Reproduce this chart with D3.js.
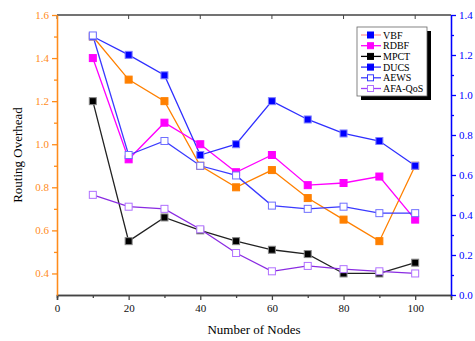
<!DOCTYPE html>
<html>
<head>
<meta charset="utf-8">
<script src="https://cdn.jsdelivr.net/npm/d3@7"></script>
<style>
  body { margin: 0; background: #fff; }
  svg text { font-family: "Liberation Serif", "DejaVu Serif", serif; }
</style>
</head>
<body>
<svg id="chart" width="475" height="341"></svg>
<script>
const nodes = [10, 20, 30, 40, 50, 60, 70, 80, 90, 100];
const vbf    = [1.50, 1.30, 1.20, 0.90, 0.80, 0.88, 0.75, 0.65, 0.55, 0.90];
const rdbf   = [1.40, 0.93, 1.10, 1.00, 0.87, 0.95, 0.81, 0.82, 0.85, 0.65];
const mpct   = [1.20, 0.55, 0.66, 0.60, 0.55, 0.51, 0.49, 0.40, 0.40, 0.45];
const ducs   = [1.50, 1.415, 1.32, 0.95, 1.00, 1.20, 1.115, 1.05, 1.015, 0.90];
const aews   = [1.505, 0.95, 1.015, 0.90, 0.855, 0.715, 0.70, 0.71, 0.68, 0.68];
const afaQos = [0.765, 0.71, 0.70, 0.605, 0.495, 0.41, 0.435, 0.42, 0.41, 0.40];
const leftTicks = [0.4, 0.6, 0.8, 1.0, 1.2, 1.4, 1.6];
const rightTicks = [0.0, 0.2, 0.4, 0.6, 0.8, 1.0, 1.2, 1.4];
const xTicks = [0, 20, 40, 60, 80, 100];

const series = [
  { name: 'VBF', values: vbf, line: '#ff8000', fill: '#ff8000', stroke: '#ff8000', legLine: '#ff9999', legFill: '#0000ff', legStroke: '#0000ff' },
  { name: 'RDBF', values: rdbf, line: '#ff00ff', fill: '#ff00ff', stroke: '#ff00ff', legLine: '#ff00ff', legFill: '#ff00ff', legStroke: '#ff00ff' },
  { name: 'MPCT', values: mpct, line: '#222222', fill: '#000000', stroke: '#888888', legLine: '#000000', legFill: '#000000', legStroke: '#000000' },
  { name: 'DUCS', values: ducs, line: '#2f2fff', fill: '#0000ff', stroke: '#8080ff', legLine: '#2f2fff', legFill: '#0000ff', legStroke: '#0000ff' },
  { name: 'AEWS', values: aews, line: '#3a3aff', fill: '#ffffff', stroke: '#6f6fff', legLine: '#3a3aff', legFill: '#ffffff', legStroke: '#3a3aff' },
  { name: 'AFA-QoS', values: afaQos, line: '#8a2be2', fill: '#ffffff', stroke: '#b070ff', legLine: '#a040ff', legFill: '#ffffff', legStroke: '#b070ff' }
];

const margin = { top: 15, right: 24, bottom: 46, left: 57 };
const width = 475 - margin.left - margin.right;
const height = 341 - margin.top - margin.bottom;

const svg = d3.select('#chart');
const g = svg.append('g').attr('transform', `translate(${margin.left},${margin.top})`);

const x = d3.scaleLinear().domain([0, 110]).range([0, width]);
const y = d3.scaleLinear().domain([0.3, 1.6]).range([height, 0]);
const y2 = d3.scaleLinear().domain([0, 1.4]).range([height, 0]);

// frame top
g.append('line').attr('x1', 0).attr('x2', width).attr('y1', 0).attr('y2', 0)
  .attr('stroke', '#444').attr('stroke-width', 1.5);
g.selectAll('.ttick').data(xTicks).enter().append('line')
  .attr('x1', d => x(d)).attr('x2', d => x(d)).attr('y1', 0).attr('y2', 4)
  .attr('stroke', '#444');

// bottom axis
const xAxis = g.append('g').attr('transform', `translate(0,${height})`);
xAxis.call(d3.axisBottom(x).tickValues(xTicks).tickSize(5).tickPadding(4).tickFormat(d3.format('d')));
xAxis.append('g').call(d3.axisBottom(x).tickValues(d3.range(10, 110, 20)).tickSize(3).tickFormat(''));
xAxis.selectAll('path, line').attr('stroke', '#444').attr('stroke-width', 1.3);
xAxis.selectAll('path.domain').attr('stroke-width', 1.5);
xAxis.selectAll('text').attr('font-size', 11).attr('fill', '#111');

// left axis
const yAxis = g.append('g');
yAxis.call(d3.axisLeft(y).tickValues(leftTicks).tickSize(5).tickPadding(3).tickFormat(d3.format('.1f')).tickSizeOuter(0));
yAxis.append('g').call(d3.axisLeft(y).tickValues(d3.range(0.5, 1.6, 0.2)).tickSize(3).tickFormat('').tickSizeOuter(0));
yAxis.selectAll('path, line').attr('stroke', '#ff8c1a').attr('stroke-width', 1.3);
yAxis.selectAll('text').attr('font-size', 11).attr('fill', '#ff8c1a');

// right axis
const yAxis2 = g.append('g').attr('transform', `translate(${width},0)`);
yAxis2.call(d3.axisRight(y2).tickValues(rightTicks).tickSize(5).tickPadding(3).tickFormat(d3.format('.1f')).tickSizeOuter(0));
yAxis2.append('g').call(d3.axisRight(y2).tickValues(d3.range(0.1, 1.4, 0.2)).tickSize(3).tickFormat('').tickSizeOuter(0));
yAxis2.selectAll('path, line').attr('stroke', '#0000ff').attr('stroke-width', 1.3);
yAxis2.selectAll('text').attr('font-size', 11).attr('fill', '#0000ff');

// axis titles
svg.append('text').attr('x', margin.left + x(55)).attr('y', 334)
  .attr('text-anchor', 'middle').attr('font-size', 13).text('Number of Nodes');
svg.append('text').attr('transform', `translate(22,${margin.top + height / 2}) rotate(-90)`)
  .attr('text-anchor', 'middle').attr('font-size', 13).text('Routing Overhead');

// lines and markers
const line = d3.line().x((d, i) => x(nodes[i])).y(d => y(d));
series.forEach(s => {
  g.append('path').datum(s.values).attr('d', line)
    .attr('fill', 'none').attr('stroke', s.line).attr('stroke-width', 1.3);
});
series.forEach(s => {
  g.selectAll(null).data(s.values).enter().append('rect')
    .attr('x', (d, i) => x(nodes[i]) - 3.5).attr('y', d => y(d) - 3.5)
    .attr('width', 7).attr('height', 7)
    .attr('fill', s.fill).attr('stroke', s.stroke).attr('stroke-width', 1);
});

// legend
const lg = svg.append('g').attr('transform', 'translate(357,27)');
lg.append('rect').attr('x', 4).attr('y', 4).attr('width', 70).attr('height', 69).attr('fill', '#000');
lg.append('rect').attr('x', 0).attr('y', 0).attr('width', 70).attr('height', 69)
  .attr('fill', '#fff').attr('stroke', '#666').attr('stroke-width', 0.8);
series.forEach((s, i) => {
  const row = lg.append('g').attr('transform', `translate(0,${8 + i * 10.7})`);
  row.append('line').attr('x1', 4).attr('x2', 24).attr('y1', 0).attr('y2', 0)
    .attr('stroke', s.legLine).attr('stroke-width', 1.3);
  row.append('rect').attr('x', 10.5).attr('y', -3).attr('width', 6).attr('height', 6)
    .attr('fill', s.legFill).attr('stroke', s.legStroke);
  row.append('text').attr('x', 26).attr('y', 3.5).attr('font-size', 10).text(s.name);
});
</script>
</body>
</html>
